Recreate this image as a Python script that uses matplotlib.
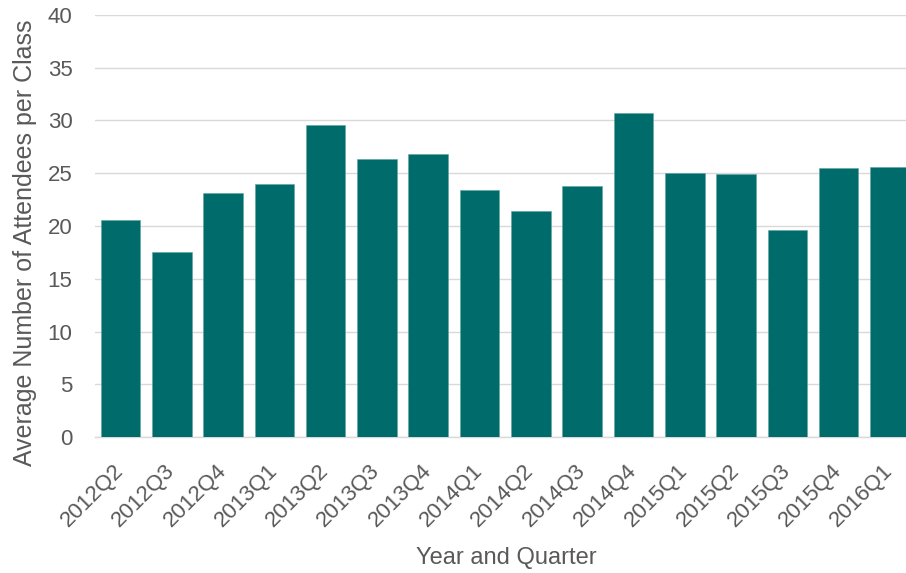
import matplotlib
matplotlib.use("Agg")
import matplotlib.pyplot as plt

quarters = ["2012Q2", "2012Q3", "2012Q4", "2013Q1", "2013Q2", "2013Q3", "2013Q4",
            "2014Q1", "2014Q2", "2014Q3", "2014Q4", "2015Q1", "2015Q2", "2015Q3",
            "2015Q4", "2016Q1"]
avg_attendees = [20.6, 17.5, 23.1, 24.0, 29.6, 26.3, 26.8,
                 23.4, 21.4, 23.8, 30.7, 25.0, 24.9, 19.6,
                 25.5, 25.6]
y_ticks = [0, 5, 10, 15, 20, 25, 30, 35, 40]

W, H = 906, 573
fig = plt.figure(figsize=(W / 100, H / 100), dpi=100)
left, right = 94.8, 915.6
top, bottom = 14.7, 437.3
ax = fig.add_axes([left / W, 1 - bottom / H, (right - left) / W, (bottom - top) / H])

text_color = "#595959"
grid_color = "#D9D9D9"
font = "Liberation Sans"

x = range(len(quarters))
ax.bar(x, avg_attendees, width=0.772, color="#006B6B", edgecolor="#5FA3A3",
       linewidth=0.4, zorder=3)

ax.set_xlim(-0.5, len(quarters) - 0.5)
ax.set_ylim(0, 40)
ax.set_yticks(y_ticks)
ax.yaxis.grid(True, color=grid_color, linewidth=1.0, zorder=0)
ax.set_axisbelow(True)
for side in ("top", "right", "left"):
    ax.spines[side].set_visible(False)
ax.spines["bottom"].set_color(grid_color)
ax.spines["bottom"].set_linewidth(1.0)

ax.tick_params(axis="both", length=0, colors=text_color)
ax.tick_params(axis="y", pad=16)
ax.set_yticklabels([str(v) for v in y_ticks], fontsize=16, family=font, color=text_color)
ax.set_xticks(list(x))
ax.set_xticklabels(quarters, rotation=45, ha="right", va="center", rotation_mode="anchor",
                   fontsize=16, family=font, color=text_color)
ax.tick_params(axis="x", pad=22)

ax.set_xlabel("Year and Quarter", fontsize=17, family=font, color=text_color)
ax.set_ylabel("Average Number of Attendees per Class", fontsize=18, family=font,
              color=text_color)
ax.xaxis.set_label_coords((506 - left) / (right - left), -(547 - bottom) / (bottom - top))
ax.yaxis.set_label_coords((37 - left) / (right - left), (bottom - 242.5) / (bottom - top))

fig.savefig("out.png", dpi=100)
